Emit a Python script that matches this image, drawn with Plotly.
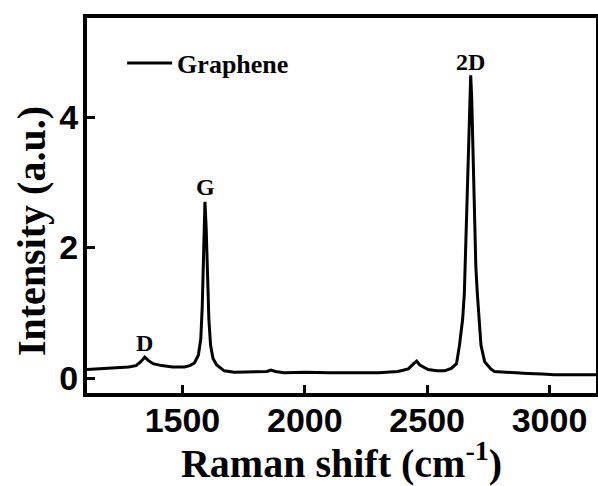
import plotly.graph_objects as go

# Raman spectrum of graphene
raman_shift = [1110, 1150, 1200, 1236, 1280, 1310, 1330, 1346, 1360, 1380, 1415, 1460,
               1508, 1530, 1549, 1565, 1575, 1581, 1587, 1592, 1597, 1602, 1608, 1615,
               1625, 1640, 1671, 1712, 1800, 1845, 1862, 1880, 1915, 2000, 2100, 2200,
               2301, 2380, 2423, 2445, 2457, 2470, 2504, 2540, 2572, 2600, 2620, 2632,
               2645, 2652, 2657, 2663, 2669, 2675, 2678, 2682, 2687, 2693, 2699, 2705,
               2713, 2720, 2735, 2760, 2775, 2850, 2911, 2970, 3019, 3100, 3190]
intensity = [0.13, 0.14, 0.15, 0.16, 0.17, 0.19, 0.25, 0.32, 0.27, 0.22, 0.19, 0.17,
             0.17, 0.19, 0.23, 0.35, 0.60, 1.10, 2.00, 2.70, 2.30, 1.60, 0.90, 0.50,
             0.30, 0.20, 0.11, 0.09, 0.09, 0.10, 0.12, 0.10, 0.08, 0.09, 0.08, 0.08,
             0.08, 0.10, 0.14, 0.22, 0.26, 0.20, 0.13, 0.11, 0.11, 0.15, 0.22, 0.50,
             0.90, 1.30, 2.00, 2.80, 3.70, 4.50, 4.64, 4.30, 3.40, 2.30, 1.70, 1.30,
             0.80, 0.50, 0.25, 0.14, 0.10, 0.08, 0.07, 0.06, 0.05, 0.05, 0.05]

peak_labels = ["D", "G", "2D"]
peak_x = [1346, 1594, 2678]
peak_label_y = [0.54, 2.93, 4.84]

x_ticks = [1500, 2000, 2500, 3000]
y_ticks = [0, 2, 4]

serif = "Liberation Serif, Times New Roman, serif"
sans = "Liberation Sans, Arial, sans-serif"

fig = go.Figure()
fig.add_trace(go.Scatter(x=raman_shift, y=intensity, mode="lines", name="Graphene",
                         line=dict(color="black", width=3)))

for lab, px, py in zip(peak_labels, peak_x, peak_label_y):
    fig.add_annotation(x=px, y=py, text=lab, showarrow=False,
                       font=dict(family=serif, size=24, color="black", weight="bold"))

# y-axis title (placed as a rotated annotation to match the reference offset)
fig.add_annotation(xref="paper", yref="paper", x=-0.11, y=0.432, text="Intensity (a.u.)",
                   textangle=-90, showarrow=False, xanchor="center", yanchor="middle",
                   font=dict(family=serif, size=40, color="black", weight="bold"))

fig.update_layout(
    width=598, height=486,
    margin=dict(l=87, r=2, t=18, b=93, autoexpand=False),
    paper_bgcolor="white", plot_bgcolor="white",
    showlegend=True,
    legend=dict(x=0.069, y=0.88, xanchor="left", yanchor="middle",
                bgcolor="rgba(0,0,0,0)", itemwidth=45,
                font=dict(family=serif, size=26, color="black", weight="bold")),
    xaxis=dict(range=[1110, 3190], tickvals=x_ticks, ticks="inside", ticklen=8,
               tickwidth=3, tickcolor="black", showline=True, linewidth=4,
               linecolor="black", mirror=True, showgrid=False, zeroline=False,
               automargin=False, ticklabelstandoff=-6,
               tickfont=dict(family=sans, size=34, color="black", weight="bold"),
               title=dict(text="Raman shift (cm<sup>-1</sup>)", standoff=6,
                          font=dict(family=serif, size=40, color="black", weight="bold"))),
    yaxis=dict(range=[-0.23, 5.52], tickvals=y_ticks, ticks="inside", ticklen=8,
               tickwidth=3, tickcolor="black", showline=True, linewidth=4,
               linecolor="black", mirror=True, showgrid=False, zeroline=False,
               automargin=False, ticklabelstandoff=-2,
               tickfont=dict(family=sans, size=34, color="black", weight="bold")),
)

fig.write_html("out.html", config={"displayModeBar": False},
               post_script="document.body.style.margin='0';")
